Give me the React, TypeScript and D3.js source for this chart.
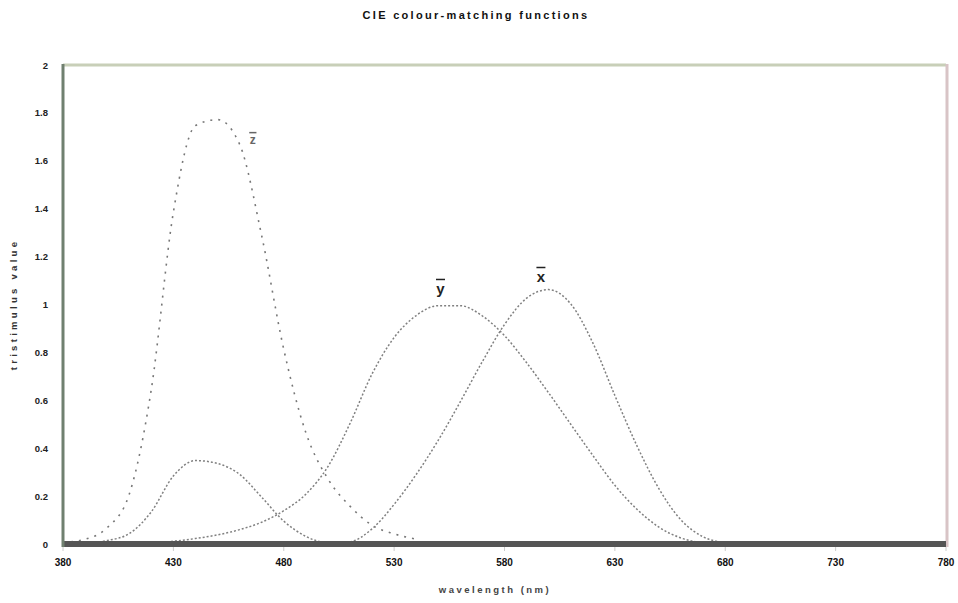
import { useEffect } from 'react';
import * as d3 from 'd3';

const W = 958;
const H = 603;
const MARGIN = { top: 65, right: 12, bottom: 59, left: 63 };

// colour-matching functions, 10 nm steps
const wavelengths = [380, 390, 400, 410, 420, 430, 440, 450, 460, 470, 480, 490, 500, 510, 520, 530, 540, 550, 560, 570, 580, 590, 600, 610, 620, 630, 640, 650, 660, 670, 680];
const xBar = [0.0014, 0.0042, 0.0143, 0.0435, 0.1344, 0.2839, 0.3483, 0.3362, 0.2908, 0.1954, 0.0956, 0.032, 0.0049, 0.0093, 0.0633, 0.1655, 0.2904, 0.4334, 0.5945, 0.7621, 0.9163, 1.0263, 1.0622, 1.0026, 0.84, 0.62, 0.41, 0.23, 0.1, 0.03, 0.005];
const yBar = [0.0, 0.0001, 0.0004, 0.0012, 0.004, 0.0116, 0.023, 0.038, 0.06, 0.091, 0.139, 0.208, 0.323, 0.503, 0.71, 0.862, 0.954, 0.995, 0.995, 0.952, 0.87, 0.757, 0.631, 0.5, 0.37, 0.245, 0.145, 0.07, 0.025, 0.005, 0.0];
const zBar = [0.0065, 0.0201, 0.0679, 0.2074, 0.6456, 1.3856, 1.7471, 1.7721, 1.6692, 1.2876, 0.813, 0.4652, 0.272, 0.1582, 0.0782, 0.0422, 0.0203];

const xTicks = [380, 430, 480, 530, 580, 630, 680, 730, 780];
const yTicks = [0, 0.2, 0.4, 0.6, 0.8, 1, 1.2, 1.4, 1.6, 1.8, 2];

const curveLabels = [
  { name: 'z', lambda: 466, value: 1.67, size: 12, color: '#666' },
  { name: 'y', lambda: 551, value: 1.045, size: 15, color: '#222' },
  { name: 'x', lambda: 596.5, value: 1.095, size: 15, color: '#222' },
];

const FONT = '"Liberation Sans", Arial, sans-serif';

export default function App() {
  useEffect(() => {
    document.body.style.margin = '0';
  }, []);

  const innerW = W - MARGIN.left - MARGIN.right;
  const innerH = H - MARGIN.top - MARGIN.bottom;

  const x = d3.scaleLinear().domain([380, 780]).range([MARGIN.left, MARGIN.left + innerW]);
  const y = d3.scaleLinear().domain([0, 2]).range([MARGIN.top + innerH, MARGIN.top]);

  const line = d3
    .line<number>()
    .x((_, i) => x(wavelengths[i]))
    .y(d => y(d))
    .curve(d3.curveMonotoneX);

  const bottom = MARGIN.top + innerH;
  const right = MARGIN.left + innerW;

  return (
    <svg width={W} height={H} style={{ display: 'block', background: '#fff' }} fontFamily={FONT}>
      <text x={476} y={19} textAnchor="middle" fontSize={11} fontWeight="bold" fill="#111" letterSpacing={2.3}>
        CIE colour-matching functions
      </text>

      {/* frame */}
      <line x1={MARGIN.left} x2={right} y1={MARGIN.top} y2={MARGIN.top} stroke="#c8cfb8" strokeWidth={3} />
      <line x1={right + 1} x2={right + 1} y1={MARGIN.top - 1} y2={bottom + 3} stroke="#d8c4c6" strokeWidth={3} />

      {/* curves */}
      <path d={line(zBar) || ''} fill="none" stroke="#777" strokeWidth={1.6} strokeDasharray="2,6" />
      <path d={line(yBar) || ''} fill="none" stroke="#808080" strokeWidth={1.5} strokeDasharray="2,2" />
      <path d={line(xBar) || ''} fill="none" stroke="#808080" strokeWidth={1.5} strokeDasharray="2,2" />

      {/* curve labels with overbar */}
      {curveLabels.map(l => (
        <g key={l.name}>
          <text x={x(l.lambda)} y={y(l.value)} textAnchor="middle" fontSize={l.size} fontWeight="bold" fill={l.color}>
            {l.name}
          </text>
          <line
            x1={x(l.lambda) - l.size * 0.3}
            x2={x(l.lambda) + l.size * 0.3}
            y1={y(l.value) - l.size * 0.95}
            y2={y(l.value) - l.size * 0.95}
            stroke={l.color}
            strokeWidth={1.5}
          />
        </g>
      ))}

      {/* x axis */}
      <line x1={MARGIN.left} x2={right} y1={bottom} y2={bottom} stroke="#555" strokeWidth={6} />
      {xTicks.map(t => (
        <g key={t}>
          <line x1={x(t)} x2={x(t)} y1={bottom + 3} y2={bottom + 7} stroke="#ccc" />
          <text x={x(t)} y={bottom + 22} textAnchor="middle" fontSize={10} fontWeight="bold" fill="#111">
            {t}
          </text>
        </g>
      ))}
      <text x={495} y={593} textAnchor="middle" fontSize={9.5} fontWeight="bold" fill="#444" letterSpacing={2.5}>
        wavelength (nm)
      </text>

      {/* y axis */}
      <line x1={MARGIN.left} x2={MARGIN.left} y1={MARGIN.top - 1} y2={bottom + 3} stroke="#708070" strokeWidth={3} />
      {yTicks.map(t => (
        <text key={t} x={48} y={y(t) + 3.5} textAnchor="end" fontSize={9.5} fontWeight="bold" fill="#222">
          {d3.format('~g')(t)}
        </text>
      ))}
      <text
        transform={`translate(17,${(MARGIN.top + bottom) / 2}) rotate(-90)`}
        textAnchor="middle"
        fontSize={9.5}
        fontWeight="bold"
        fill="#333"
        letterSpacing={3.3}
      >
        tristimulus value
      </text>
    </svg>
  );
}
